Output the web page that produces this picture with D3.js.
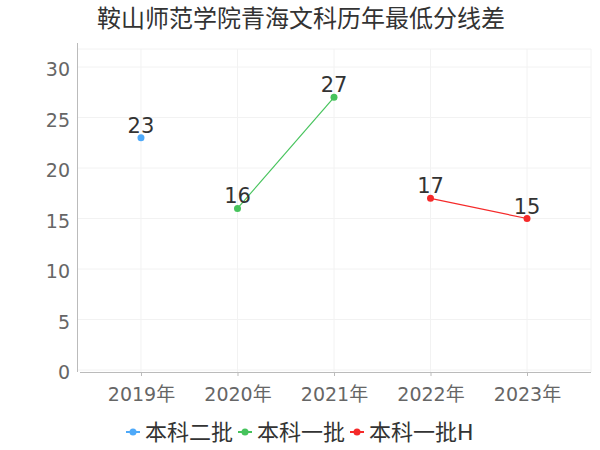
<!DOCTYPE html>
<html><head><meta charset="utf-8">
<script src="https://cdn.jsdelivr.net/npm/d3@7"></script>
<style>body{margin:0;background:#fff}svg{display:block}</style>
</head><body>
<svg id="c" width="600" height="450"></svg>
<script>
const title = "鞍山师范学院青海文科历年最低分线差";
const categories = ["2019年","2020年","2021年","2022年","2023年"];
const seriesNames = ["本科二批","本科一批","本科一批H"];
const seriesColors = ["#4ea9f9","#46c35c","#f52a2a"];
const values二批 = [23, null, null, null, null];
const values一批 = [null, 16, 27, null, null];
const values一批H = [null, null, null, 17, 15];
const yTicks = [0,5,10,15,20,25,30];
const seriesValues = [values二批, values一批, values一批H];

const font = "'DejaVu Sans','Noto Sans CJK SC',sans-serif";
const svg = d3.select("#c");
const L = 77, R = 591, T = 43, B = 372;
const x = d3.scalePoint().domain(categories).range([L, R]).padding(0.663);
const y = d3.scaleLinear().domain([0, 30]).range([370, 67]);

// title
svg.append("text").attr("x", 301).attr("y", 27).attr("text-anchor", "middle")
  .attr("font-family", font).attr("font-size", 24).attr("fill", "#333").text(title);

// grid
const g = svg.append("g");
g.selectAll(".hg").data(yTicks).join("line")
  .attr("x1", L).attr("x2", R).attr("y1", d => y(d)).attr("y2", d => y(d))
  .attr("stroke", "#f2f2f2").attr("stroke-width", 1);
g.selectAll(".vg").data(categories).join("line")
  .attr("x1", d => x(d)).attr("x2", d => x(d)).attr("y1", 49).attr("y2", B)
  .attr("stroke", "#f2f2f2").attr("stroke-width", 1);
g.append("line").attr("x1", R).attr("x2", R).attr("y1", 49).attr("y2", B).attr("stroke", "#f2f2f2");
g.append("line").attr("x1", L).attr("x2", R).attr("y1", 49).attr("y2", 49).attr("stroke", "#f2f2f2");

// y axis
const yAxis = svg.append("g").attr("transform", `translate(${L},0)`)
  .call(d3.axisLeft(y).tickValues(yTicks).tickSize(0).tickPadding(7));
yAxis.select(".domain").remove();
yAxis.append("line").attr("x1", 0.5).attr("x2", 0.5).attr("y1", T).attr("y2", B).attr("stroke", "#bbb");
yAxis.selectAll("text").attr("font-family", font).attr("font-size", 19).attr("fill", "#666").attr("dy", "0.45em");

// x axis
const xAxis = svg.append("g").attr("transform", `translate(0,${B})`)
  .call(d3.axisBottom(x).tickSizeOuter(0).tickSizeInner(4).tickPadding(12));
xAxis.select(".domain").attr("stroke", "#bbb").attr("d", `M${L+3},0.5H${R}`);
xAxis.selectAll(".tick line").attr("stroke", "#bbb");
xAxis.selectAll("text").attr("font-family", font).attr("font-size", 19).attr("fill", "#666");

// series
const line = d3.line().defined(d => d.v != null).x(d => x(d.c)).y(d => y(d.v));
seriesValues.forEach((vals, i) => {
  const data = categories.map((c, j) => ({c, v: vals[j]}));
  const sg = svg.append("g");
  sg.append("path").attr("d", line(data)).attr("fill", "none")
    .attr("stroke", seriesColors[i]).attr("stroke-width", 1.2);
  const pts = data.filter(d => d.v != null);
  sg.selectAll("circle").data(pts).join("circle")
    .attr("cx", d => x(d.c)).attr("cy", d => y(d.v)).attr("r", 3.5).attr("fill", seriesColors[i]);
  sg.selectAll("text").data(pts).join("text")
    .attr("x", d => x(d.c)).attr("y", d => y(d.v) - 5).attr("text-anchor", "middle")
    .attr("font-family", font).attr("font-size", 21).attr("fill", "#333").text(d => d.v);
});

// legend
const legendX = [126, 238, 350];
seriesNames.forEach((n, i) => {
  const lg = svg.append("g").attr("transform", `translate(${legendX[i]},432)`);
  lg.append("line").attr("x1", 0).attr("x2", 14).attr("y1", 0).attr("y2", 0)
    .attr("stroke", seriesColors[i]).attr("stroke-width", 2);
  lg.append("circle").attr("cx", 7).attr("cy", 0).attr("r", 3.5).attr("fill", seriesColors[i]);
  lg.append("text").attr("x", 19).attr("y", 0).attr("dy", "0.35em")
    .attr("font-family", font).attr("font-size", 22).attr("fill", "#333").text(n);
});
</script>
</body></html>
